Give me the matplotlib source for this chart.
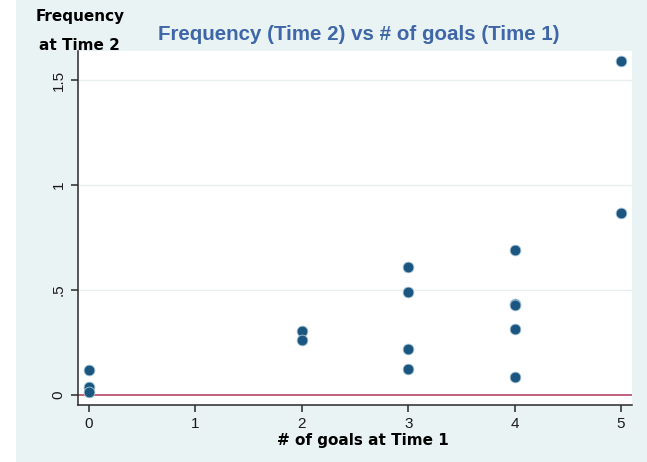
import matplotlib
matplotlib.use("Agg")
import matplotlib.pyplot as plt
from matplotlib.patches import Rectangle

goals_t1 = [0, 0, 0, 2, 2, 3, 3, 3, 3, 4, 4, 4, 4, 4, 5, 5]
freq_t2 = [0.117, 0.040, 0.016, 0.306, 0.262, 0.608, 0.492, 0.219, 0.122,
           0.690, 0.435, 0.430, 0.313, 0.087, 1.590, 0.867]
x_ticks = [0, 1, 2, 3, 4, 5]
y_ticks = [0, 0.5, 1, 1.5]
y_tick_labels = ["0", ".5", "1", "1.5"]

plt.rcParams['font.family'] = ['Liberation Sans', 'DejaVu Sans']

fig = plt.figure(figsize=(6.47, 4.62), dpi=100)
fig.patch.set_facecolor('white')
fig.patches.append(Rectangle((16/647, 0), 1 - 16/647, 1, transform=fig.transFigure,
                             facecolor='#eaf3f3', edgecolor='none', zorder=-10))

ax = fig.add_axes([78/647, 57/462, (632-78)/647, (405-51)/462])
ax.set_facecolor('white')
ax.set_xlim(-0.103, 5.103)
ax.set_ylim(-0.048, 1.638)

for sp in ['top', 'right']:
    ax.spines[sp].set_visible(False)
for sp in ['left', 'bottom']:
    ax.spines[sp].set_color('#2a2a2a')
    ax.spines[sp].set_linewidth(1.1)

ax.set_yticks(y_ticks)
ax.set_yticklabels(y_tick_labels, rotation=90, va='center', fontsize=11,
                   color='#1a1a1a')
ax.set_xticks(x_ticks)
ax.set_xticklabels([str(v) for v in x_ticks], fontsize=11, color='#1a1a1a')
ax.tick_params(direction='out', length=5, width=1.1, color='#2a2a2a', pad=4)

for yv in y_ticks[1:]:
    ax.axhline(yv, color='#e8eeee', linewidth=1.0, zorder=0)
ax.axhline(0, color='#c0607a', linewidth=1.4, zorder=1)

ax.scatter(goals_t1, freq_t2, s=60, color='#1b5680', edgecolors='#a9c6d6',
           linewidths=0.6, zorder=3)

ax.set_xlabel('# of goals at Time 1', fontsize=11, fontweight='bold',
              family='DejaVu Sans')
ax.xaxis.set_label_coords((363-78)/554, -(441-405)/354)
ax.xaxis.label.set_va('center')
fig.text(80/647, 1 - 17/462, 'Frequency', ha='center', va='center',
         fontsize=11, fontweight='bold', family='DejaVu Sans')
fig.text(79/647, 1 - 45/462, 'at Time 2', ha='center', va='center',
         fontsize=11, fontweight='bold', family='DejaVu Sans')
fig.text(359/647, 1 - 34/462, 'Frequency (Time 2) vs # of goals (Time 1)',
         ha='center', va='center', fontsize=14.8, fontweight='bold', color='#3e66a8')

fig.savefig('out.png', dpi=100)
